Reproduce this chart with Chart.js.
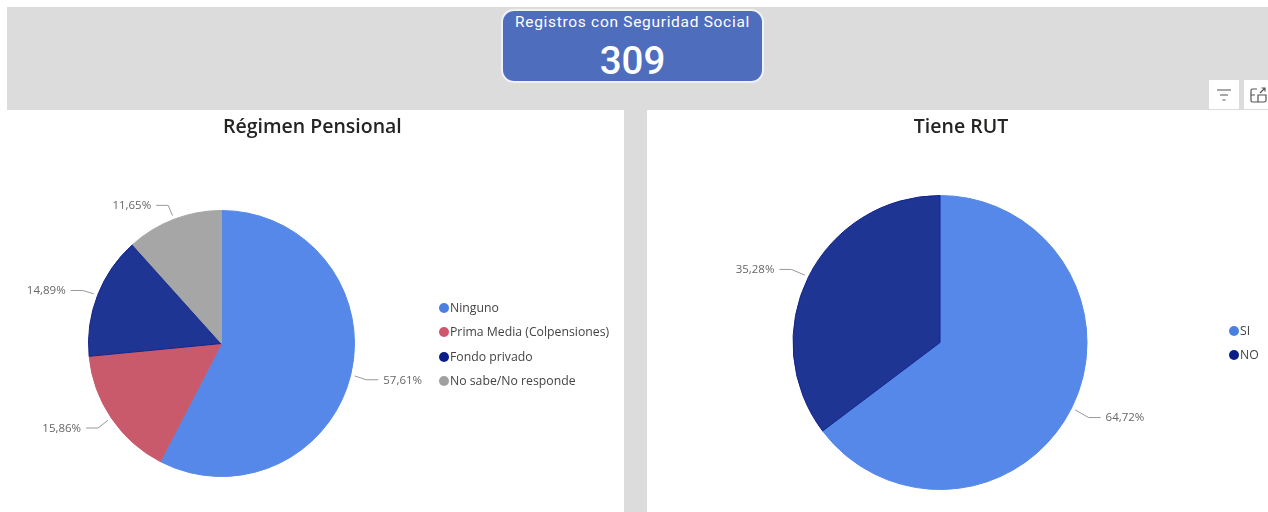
<!DOCTYPE html>
<html lang="es">
<head>
    <meta charset="UTF-8">
    <title>Registros con Seguridad Social</title>
    <script src="https://cdn.jsdelivr.net/npm/chart.js"></script>
    <style>
        html, body { margin: 0; padding: 0; background: #fff; }
        body { width: 1268px; height: 512px; position: relative; overflow: hidden; font-family: "Open Sans", sans-serif; }
        .band { position: absolute; left: 7px; top: 7px; width: 1261px; height: 505px; background: #dcdcdc; }
        .panel { position: absolute; top: 110px; height: 402px; background: #fff; }
        #panelA { left: 7px; width: 617px; }
        #panelB { left: 647px; width: 621px; }
        .panel canvas { position: absolute; left: 0; top: 0; }
        .title { position: absolute; top: 2px; text-align: center; font-size: 19.5px; font-weight: 600; color: #252423; white-space: nowrap; }
        #titleA { left: 216px; width: 178px; }
        #titleB { left: 254px; width: 120px; }
        .card { position: absolute; left: 501px; top: 9px; width: 259px; height: 70px; background: #4e6dbd; border: 2px solid #eef1f8; border-radius: 13px; color: #fff; text-align: center; font-family: Roboto, sans-serif; }
        .card .label { margin-top: 2px; font-size: 15.5px; letter-spacing: 0.7px; white-space: nowrap; }
        .card .value { font-size: 38.5px; line-height: 44px; font-weight: 500; margin-top: 8px; }
        .legend { position: absolute; font-size: 12.25px; color: #444; }
        .legend div { position: absolute; left: 0; height: 18px; line-height: 18px; white-space: nowrap; padding-left: 11px; }
        .legend i { position: absolute; left: 0; top: 4px; width: 10px; height: 10px; border-radius: 50%; }
        #legendA { left: 439px; top: 299px; }
        #legendB { left: 1229px; top: 322px; }
        .btn { position: absolute; top: 80px; height: 29px; background: #fff; }
    </style>
</head>
<body>
    <div class="band"></div>
    <div class="card">
        <div class="label">Registros con Seguridad Social</div>
        <div class="value">309</div>
    </div>
    <div class="btn" style="left:1209px;width:30px">
        <svg width="30" height="29" fill="none" stroke="#555" stroke-width="1.2">
            <path d="M8 10H22M11 15H19M13.5 20H16.5"/>
        </svg>
    </div>
    <div class="btn" style="left:1244px;width:24px">
        <svg width="24" height="29" fill="none" stroke="#555" stroke-width="1.2">
            <path d="M13 9H8.5Q7 9 7 10.5V20.5Q7 22 8.5 22H20Q22 22 22 20.5V15H14V22M7 15H11M16 13L21 8M17.5 8H21V11.5"/>
        </svg>
    </div>
    <div class="panel" id="panelA">
        <canvas id="chartA" width="617" height="402"></canvas>
        <div class="title" id="titleA">Régimen Pensional</div>
    </div>
    <div class="panel" id="panelB">
        <canvas id="chartB" width="621" height="402"></canvas>
        <div class="title" id="titleB">Tiene RUT</div>
    </div>
    <div class="legend" id="legendA"></div>
    <div class="legend" id="legendB"></div>

    <script>
        const regimenLabels = ['Ninguno', 'Prima Media (Colpensiones)', 'Fondo privado', 'No sabe/No responde'];
        const regimenValues = [57.61, 15.86, 14.89, 11.65];
        const regimenColors = ['#5588e8', '#c95a6c', '#1f3594', '#a6a6a6'];
        const regimenEdges = ['#5588e8', '#c95a6c', '#12248a', '#a6a6a6'];
        const regimenDots = ['#4a80e0', '#d0566d', '#0b1e88', '#a0a0a0'];

        const rutLabels = ['SI', 'NO'];
        const rutValues = [64.72, 35.28];
        const rutColors = ['#5588e8', '#1f3594'];
        const rutEdges = ['#5588e8', '#12248a'];
        const rutDots = ['#4a80e0', '#0b1e88'];

        // leader lines and percent labels, Power BI style
        const leaderLabels = {
            id: 'leaderLabels',
            afterDatasetsDraw(chart, args, opts) {
                const c = chart.ctx;
                const values = chart.data.datasets[0].data;
                chart.getDatasetMeta(0).data.forEach(function(arc, i) {
                    const mid = (arc.startAngle + arc.endAngle) / 2;
                    const cos = Math.cos(mid), sin = Math.sin(mid);
                    const side = cos >= 0 ? 1 : -1;
                    const x1 = arc.x + cos * (arc.outerRadius + 4);
                    const y1 = arc.y + sin * (arc.outerRadius + 4);
                    const x2 = arc.x + cos * (arc.outerRadius + opts.reach);
                    const y2 = arc.y + sin * (arc.outerRadius + opts.reach) + 1;
                    const x3 = x2 + side * 12;
                    c.save();
                    c.strokeStyle = '#999';
                    c.lineWidth = 1;
                    c.beginPath();
                    c.moveTo(x1, y1);
                    c.lineTo(x2, y2);
                    c.lineTo(x3, y2);
                    c.stroke();
                    c.fillStyle = '#666';
                    c.font = '11.5px "Open Sans", sans-serif';
                    c.textBaseline = 'middle';
                    c.textAlign = side > 0 ? 'left' : 'right';
                    c.fillText(values[i].toFixed(2).replace('.', ',') + '%', x3 + side * 5, y2 + 0.5);
                    c.restore();
                });
            }
        };

        function makePie(id, labels, values, colors, edges, padding, reach) {
            return new Chart(document.getElementById(id), {
                type: 'pie',
                data: {
                    labels: labels,
                    datasets: [{
                        data: values,
                        backgroundColor: colors,
                        borderColor: edges,
                        borderWidth: 1
                    }]
                },
                options: {
                    responsive: false,
                    animation: false,
                    layout: { padding: padding },
                    plugins: {
                        legend: { display: false },
                        tooltip: { enabled: false },
                        leaderLabels: { reach: reach }
                    }
                },
                plugins: [leaderLabels]
            });
        }

        function makeLegend(id, labels, dots, step) {
            const box = document.getElementById(id);
            labels.forEach(function(name, i) {
                const row = document.createElement('div');
                row.style.top = (i * step) + 'px';
                row.innerHTML = '<i style="background:' + dots[i] + '"></i>' + name;
                box.appendChild(row);
            });
        }

        makePie('chartA', regimenLabels, regimenValues, regimenColors, regimenEdges,
            { left: 80, top: 100, right: 268, bottom: 35 }, 16);
        makePie('chartB', rutLabels, rutValues, rutColors, rutEdges,
            { left: 145, top: 85, right: 180, bottom: 22 }, 19);

        makeLegend('legendA', regimenLabels, regimenDots, 24.3);
        makeLegend('legendB', rutLabels, rutDots, 24);
    </script>
</body>
</html>
